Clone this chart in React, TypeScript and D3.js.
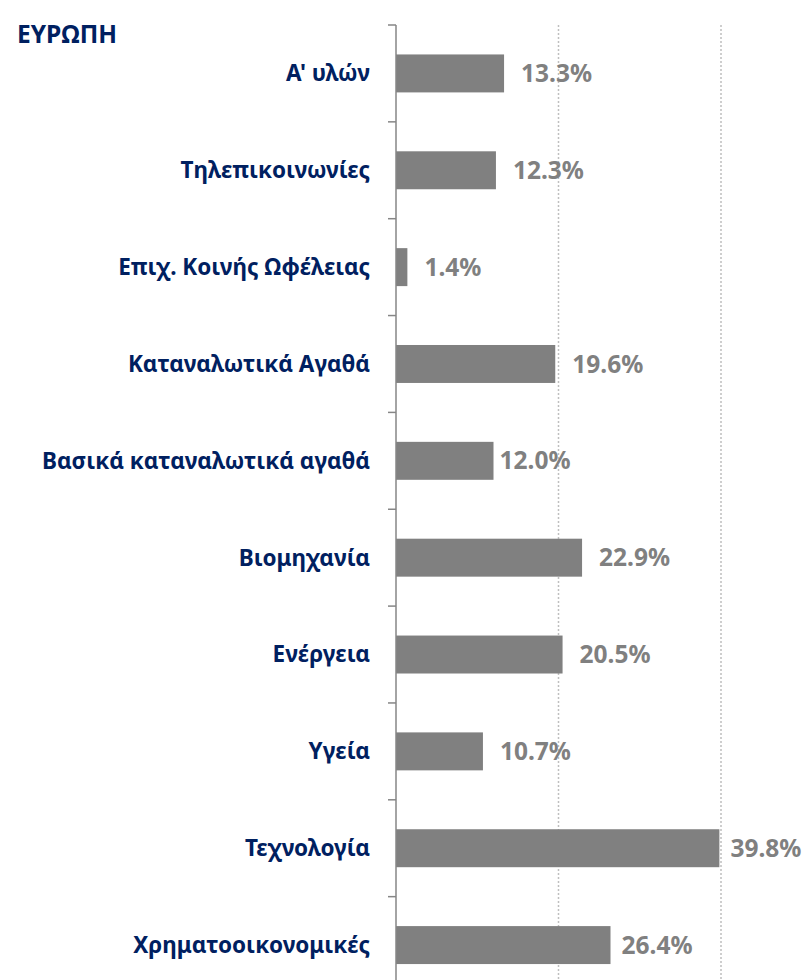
import React from "react";
import * as d3 from "d3";

const title = "ΕΥΡΩΠΗ";
const categories = [
  "Α' υλών",
  "Τηλεπικοινωνίες",
  "Επιχ. Κοινής Ωφέλειας",
  "Καταναλωτικά Αγαθά",
  "Βασικά καταναλωτικά αγαθά",
  "Βιομηχανία",
  "Ενέργεια",
  "Υγεία",
  "Τεχνολογία",
  "Χρηματοοικονομικές",
];
const values = [13.3, 12.3, 1.4, 19.6, 12.0, 22.9, 20.5, 10.7, 39.8, 26.4];
const gridValues = [20, 40];

const W = 805;
const H = 980;
const navy = "#002060";
const grey = "#808080";
const font = "'Noto Sans', sans-serif";

// a few data labels sit closer to their bar in the original
const labelGap = 17;
const labelNudge: Record<string, number> = {
  "Βασικά καταναλωτικά αγαθά": -11,
  "Τεχνολογία": -6,
  "Χρηματοοικονομικές": -6,
};

export default function App() {
  const x = d3.scaleLinear().domain([0, 40]).range([396, 721]);
  const top = 25;
  const step = 96.85;
  const y = d3
    .scaleBand<string>()
    .domain(categories)
    .range([top, top + step * categories.length])
    .paddingInner(0.608)
    .paddingOuter(0.304);

  const bottom = top + step * categories.length;
  const tickYs = d3.range(categories.length).map((i) => top + i * step);
  const mid = (c: string) => (y(c) as number) + y.bandwidth() / 2;

  return (
    <svg
      width={W}
      height={H}
      style={{ position: "absolute", left: 0, top: 0, background: "#fff" }}
      fontFamily={font}
    >
      {/* dotted gridlines */}
      {gridValues.map((g) => (
        <line
          key={g}
          x1={x(g)}
          x2={x(g)}
          y1={top}
          y2={bottom}
          stroke="#bfbfbf"
          strokeWidth={1.5}
          strokeDasharray="2,2"
        />
      ))}

      {/* bars */}
      {categories.map((c, i) => (
        <rect
          key={c}
          x={x(0)}
          y={y(c)}
          width={x(values[i]) - x(0)}
          height={y.bandwidth()}
          fill={grey}
        />
      ))}

      {/* axis line + ticks */}
      <line x1={x(0)} x2={x(0)} y1={top} y2={bottom} stroke="#868686" strokeWidth={1.5} />
      {tickYs.map((t, i) => (
        <line key={i} x1={x(0) - 8} x2={x(0)} y1={t} y2={t} stroke="#868686" strokeWidth={1.5} />
      ))}

      {/* category labels */}
      {categories.map((c) => (
        <text
          key={c}
          x={370}
          y={mid(c)}
          dy="0.35em"
          textAnchor="end"
          fill={navy}
          fontWeight="bold"
          fontSize={22.5}
        >
          {c}
        </text>
      ))}

      {/* value labels */}
      {categories.map((c, i) => (
        <text
          key={c}
          x={x(values[i]) + labelGap + (labelNudge[c] ?? 0)}
          y={mid(c)}
          dy="0.35em"
          fill={grey}
          fontWeight="bold"
          fontSize={24.5}
        >
          {values[i].toFixed(1) + "%"}
        </text>
      ))}

      <text x={17} y={42.7} fill={navy} fontWeight="bold" fontSize={24.5}>
        {title}
      </text>
    </svg>
  );
}
